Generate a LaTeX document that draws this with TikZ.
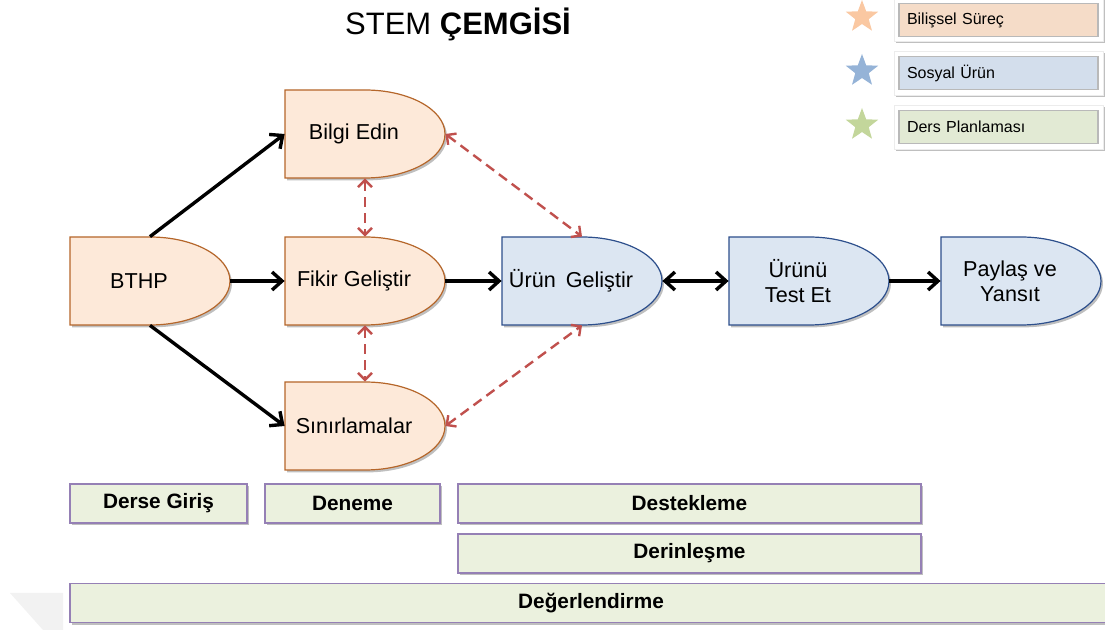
\documentclass[tikz,border=0pt]{standalone}
\usepackage{fontspec}
\setmainfont{Liberation Sans}
\usetikzlibrary{arrows.meta,shapes.geometric,shadows}

\definecolor{bilfill}{HTML}{FDE9D9}
\definecolor{bildraw}{HTML}{B5662A}
\definecolor{sosfill}{HTML}{DCE6F2}
\definecolor{sosdraw}{HTML}{2D4F8C}
\definecolor{dersfill}{HTML}{EBF1DE}
\definecolor{dersdraw}{HTML}{9580B5}
\definecolor{linkred}{HTML}{C0504D}
\definecolor{legbil}{HTML}{F5DCC8}
\definecolor{legsos}{HTML}{D3DEEC}
\definecolor{legders}{HTML}{E2EAD4}
\definecolor{starbil}{HTML}{FAC8A2}
\definecolor{starsos}{HTML}{95B3D7}
\definecolor{starders}{HTML}{C3D69B}

\tikzset{
  gatebody/.style={inner sep=0pt, minimum width=80pt, minimum height=44pt},
  gatetext/.style={align=center, xshift=-5.5pt, font=\fontsize{10.8}{12.5}\selectfont},
  softshadow/.style={drop shadow={shadow xshift=1pt, shadow yshift=-1.2pt, opacity=0.25, fill=black}},
  flow/.style={line width=1.7pt, -{Straight Barb[length=5pt,width=9pt]}},
  link/.style={linkred, line width=1.2pt, dash pattern=on 5pt off 3pt,
    {Straight Barb[length=3.5pt,width=7pt]}-{Straight Barb[length=3.5pt,width=7pt]}},
  phase/.style={draw=dersdraw, fill=dersfill, line width=0.6pt, inner sep=0pt,
    minimum height=19.5pt, font=\fontsize{10.4}{12}\bfseries\selectfont, softshadow},
  legendbox/.style={draw=gray!55, line width=0.6pt, inner xsep=4pt, inner ysep=0pt,
    text width=91.5pt, minimum height=16.5pt, align=left, font=\fontsize{8}{9}\selectfont},
  legendstar/.style={star, star points=5, star point ratio=2.4, minimum size=17pt, inner sep=0pt}
}

% name, x of curve start, y of middle, fill, draw, text
\newcommand\delaybox[6]{%
  \filldraw[fill=#4, draw=#5, line width=0.6pt, softshadow]
    (#2-80,#3-44) -- (#2,#3-44) arc[start angle=-90, end angle=90, x radius=80, y radius=44]
    -- (#2-80,#3+44) -- cycle;
  \node[gatebody, label={[gatetext]center:{#6}}] (#1) at (#2,#3) {};
}

\begin{document}
\begin{tikzpicture}[x=0.5pt,y=0.5pt,yscale=-1,xscale=1]
\useasboundingbox (0,0) rectangle (1105,630);

%Shape: faint corner
\fill[gray!10] (10,593) -- (63,593) -- (63,630) -- (43,630) -- cycle;

% Text Node
\node (title) at (458,24) {\fontsize{15.5}{18}\selectfont STEM \textbf{ÇEMGİSİ}};

%Shapes: Delay
\delaybox{bthp}{150}{281}{bilfill}{bildraw}{BTHP}
\delaybox{bilgi}{365}{134}{bilfill}{bildraw}{Bilgi Edin}
\delaybox{fikir}{365}{281}{bilfill}{bildraw}{Fikir Geliştir}
\delaybox{sinir}{365}{426}{bilfill}{bildraw}{Sınırlamalar}
\delaybox{urun}{582}{281}{sosfill}{sosdraw}{Ürün\hspace{2pt} Geliştir}
\delaybox{test}{809}{281}{sosfill}{sosdraw}{Ürünü\\Test Et}
\delaybox{paylas}{1021}{281}{sosfill}{sosdraw}{Paylaş ve\\Yansıt}

%Straight Lines
\draw[flow] (bthp.north) -- (bilgi.west);
\draw[flow] (bthp.east) -- (fikir.west);
\draw[flow] (bthp.south) -- (sinir.west);
\draw[flow] (fikir.east) -- (urun.west);
\draw[flow, {Straight Barb[length=5pt,width=9pt]}-{Straight Barb[length=5pt,width=9pt]}] (urun.east) -- (test.west);
\draw[flow] (test.east) -- (paylas.west);

%Dashed Lines
\draw[link] (bilgi.south) -- (fikir.north);
\draw[link] (fikir.south) -- (sinir.north);
\draw[link] (bilgi.east) -- (urun.north);
\draw[link] (sinir.east) -- (urun.south);

%Phase Boxes
\node[phase, minimum width=88.5pt] (giris) at (158.5,503.5) {Derse Giriş};
\node[phase, minimum width=87.5pt] (deneme) at (352.5,503.5) {Deneme};
\node[phase, minimum width=231.5pt] (destek) at (689.5,503.5) {Destekleme};
\node[phase, minimum width=231.5pt] (derin) at (689.5,553.5) {Derinleşme};
\node[phase, minimum width=521pt] (deger) at (591,603) {Değerlendirme};

%Legend
\filldraw[fill=white, draw=gray!15, softshadow] (894,-2) rectangle (1103,41);
\filldraw[fill=white, draw=gray!15, softshadow] (894,51) rectangle (1103,95);
\filldraw[fill=white, draw=gray!15, softshadow] (894,105) rectangle (1103,149);
\node[legendbox, fill=legbil] (lgbil) at (998.5,20) {Bilişsel Süreç};
\node[legendbox, fill=legsos] (lgsos) at (998.5,73) {Sosyal Ürün};
\node[legendbox, fill=legders] (lgders) at (998.5,127) {Ders Planlaması};
\node[legendstar, fill=starbil] (stbil) at (862,17) {};
\node[legendstar, fill=starsos] (stsos) at (862,71) {};
\node[legendstar, fill=starders] (stders) at (862,125) {};
\end{tikzpicture}
\end{document}
